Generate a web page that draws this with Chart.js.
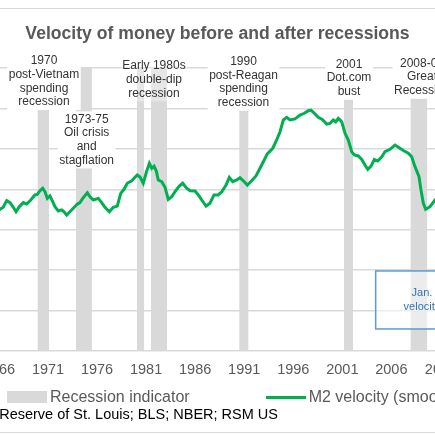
<!DOCTYPE html>
<html lang="en">
<head>
    <meta charset="UTF-8">
    <title>Velocity of money before and after recessions</title>
    <script src="https://cdn.jsdelivr.net/npm/chart.js"></script>
    <style>
        body { margin: 0; background: #fff; font-family: "Liberation Sans", Arial, sans-serif; }
        #frame { position: relative; width: 435px; height: 435px; overflow: hidden; background: #fff; }
        .rule { position: absolute; left: 0; width: 435px; height: 1px; background: #d9d9d9; }
        #chart { position: absolute; left: -67px; top: 0; width: 569px; height: 435px; }
        #legend { position: absolute; left: 7px; top: 387px; height: 20px; display: flex; align-items: center;
                  font-size: 16px; color: #595959; white-space: nowrap; }
        .item { display: flex; align-items: center; }
        .item + .item { margin-left: 76px; }
        .swatch { width: 40px; margin-right: 3px; }
        #source { position: absolute; left: -108px; top: 406px; font-size: 14.5px; line-height: 17px;
                  color: #000; white-space: nowrap; }
    </style>
</head>
<body>
<div id="frame">
    <div class="rule" style="top:8px"></div>
    <div class="rule" style="top:432px"></div>
    <canvas id="chart" width="569" height="435"></canvas>
    <div id="legend"></div>
    <div id="source">Source: Federal Reserve of St. Louis; BLS; NBER; RSM US</div>
</div>

<script>
// M2 velocity, smoothed
const years = [1965.80, 1966.11, 1966.44, 1966.79, 1967.13, 1967.46, 1967.74, 1968.07, 1968.48, 1968.83,
    1969.24, 1969.67, 1969.91, 1970.18, 1970.46, 1970.69, 1970.93, 1971.20, 1971.48, 1971.71,
    1972.05, 1972.40, 1972.63, 1972.91, 1973.24, 1973.58, 1973.99, 1974.26, 1974.54, 1975.01,
    1975.28, 1975.62, 1976.13, 1976.47, 1976.81, 1977.25, 1977.66, 1978.06, 1978.41, 1978.75,
    1979.08, 1979.53, 1980.10, 1980.38, 1980.71, 1981.06, 1981.33, 1981.57, 1981.81, 1982.04,
    1982.24, 1982.59, 1982.93, 1983.26, 1983.61, 1983.95, 1984.38, 1984.73, 1985.14, 1985.48,
    1985.99, 1986.32, 1986.67, 1987.11, 1987.51, 1987.92, 1988.36, 1988.71, 1989.15, 1989.48,
    1989.83, 1990.24, 1990.57, 1990.91, 1991.32, 1991.76, 1992.20, 1992.61, 1992.95, 1993.35,
    1993.91, 1994.31, 1994.65, 1994.99, 1995.33, 1995.67, 1996.18, 1996.69, 1997.13, 1997.53,
    1997.81, 1998.15, 1998.55, 1998.96, 1999.41, 1999.75, 2000.08, 2000.33, 2000.59, 2000.94,
    2001.28, 2001.61, 2001.96, 2002.22, 2002.63, 2002.98, 2003.31, 2003.59, 2003.93, 2004.26,
    2004.61, 2005.02, 2005.35, 2005.86, 2006.37, 2006.71, 2007.22, 2007.73, 2008.07, 2008.41,
    2008.82, 2009.02, 2009.26, 2009.50, 2009.94, 2010.45, 2010.90];
const velocity = [1.690, 1.701, 1.711, 1.744, 1.734, 1.711, 1.689, 1.714, 1.734, 1.727,
    1.747, 1.772, 1.775, 1.793, 1.805, 1.788, 1.755, 1.767, 1.739, 1.714,
    1.693, 1.698, 1.689, 1.673, 1.689, 1.706, 1.727, 1.734, 1.755, 1.783,
    1.763, 1.747, 1.755, 1.734, 1.711, 1.689, 1.711, 1.717, 1.780, 1.800,
    1.830, 1.842, 1.871, 1.861, 1.830, 1.890, 1.929, 1.904, 1.914, 1.890,
    1.846, 1.838, 1.810, 1.750, 1.763, 1.788, 1.816, 1.830, 1.806, 1.793,
    1.792, 1.772, 1.747, 1.717, 1.731, 1.772, 1.772, 1.788, 1.821, 1.859,
    1.838, 1.846, 1.857, 1.842, 1.821, 1.842, 1.866, 1.904, 1.936, 1.975,
    2.003, 2.044, 2.085, 2.143, 2.156, 2.143, 2.148, 2.167, 2.176, 2.189,
    2.192, 2.176, 2.156, 2.146, 2.123, 2.126, 2.143, 2.134, 2.151, 2.134,
    2.077, 2.044, 1.986, 1.970, 1.965, 1.948, 1.920, 1.899, 1.915, 1.948,
    1.940, 1.961, 1.986, 1.998, 2.019, 2.008, 1.992, 1.979, 1.961, 1.912,
    1.862, 1.796, 1.731, 1.701, 1.714, 1.747, 1.770];

// NBER recessions (start / end, decimal years)
const recessionStart = [1969.95, 1973.85, 1980.07, 1981.50, 1990.50, 2001.17, 2007.97];
const recessionEnd   = [1971.10, 1975.47, 1980.79, 1983.13, 1991.42, 2002.09, 2009.67];

const tickYears = [1966, 1971, 1976, 1981, 1986, 1991, 1996, 2001, 2006, 2011];
const yMin = 1.0, yMax = 2.4, yStep = 0.2;

// text boxes above the recession bars
const notes = [
    { year: 1970.59, value: 2.435, fill: 1,    lines: ['1970', 'post-Vietnam', 'spending', 'recession'] },
    { year: 1974.94, value: 2.146, fill: 1,    lines: ['1973-75', 'Oil crisis', 'and', 'stagflation'] },
    { year: 1981.80, value: 2.410, fill: 0.35, lines: ['Early 1980s', 'double-dip', 'recession'] },
    { year: 1990.93, value: 2.431, fill: 1,    lines: ['1990', 'post-Reagan', 'spending', 'recession'] },
    { year: 2001.68, value: 2.418, fill: 1,    lines: ['2001', 'Dot.com', 'bust'] },
    { year: 2009.12, value: 2.423, fill: 1,    lines: ['2008-09', 'Great', 'Recession'] }
];
const callout = { left: 2004.40, right: 2017.0, top: 1.396, bottom: 1.109,
    textYear: 2010.52, textValues: [1.2855, 1.219], lines: ['Jan. 2021', 'velocity: 1.12'] };

const FONT = '"Liberation Sans", Arial, sans-serif';

// recession indicator as a stepped area from the bottom of the axis
const recessionPoints = [{ x: 1959, y: yMin }];
recessionStart.forEach((s, i) => {
    recessionPoints.push({ x: s, y: yMax });
    recessionPoints.push({ x: recessionEnd[i], y: yMin });
});

const notesPlugin = {
    id: 'notes',
    afterDatasetsDraw(chart) {
        const { ctx, scales: { x, y } } = chart;
        const lh = 13.7;
        ctx.save();
        ctx.font = '12px ' + FONT;
        ctx.textAlign = 'center';
        ctx.textBaseline = 'middle';
        notes.forEach(n => {
            const cx = x.getPixelForValue(n.year);
            const top = y.getPixelForValue(n.value);
            const w = Math.max(...n.lines.map(t => ctx.measureText(t).width)) + 3;
            ctx.fillStyle = 'rgba(255,255,255,' + n.fill + ')';
            ctx.fillRect(cx - w / 2, top - 8, w, (n.lines.length - 1) * lh + 16);
            ctx.fillStyle = '#333333';
            n.lines.forEach((t, i) => ctx.fillText(t, cx, top + i * lh));
        });

        // callout box, bottom right
        const bx = x.getPixelForValue(callout.left);
        const by = y.getPixelForValue(callout.top);
        const bw = x.getPixelForValue(callout.right) - bx;
        const bh = y.getPixelForValue(callout.bottom) - by;
        ctx.fillStyle = 'rgba(255,255,255,0.5)';
        ctx.fillRect(bx, by, bw, bh);
        ctx.strokeStyle = '#5b9bd5';
        ctx.lineWidth = 1.5;
        ctx.strokeRect(bx, by, bw, bh);
        ctx.font = '11px ' + FONT;
        ctx.fillStyle = '#2e75b6';
        const tx = x.getPixelForValue(callout.textYear);
        callout.lines.forEach((t, i) => ctx.fillText(t, tx, y.getPixelForValue(callout.textValues[i])));
        ctx.restore();
    }
};

const chart = new Chart(document.getElementById('chart'), {
    type: 'line',
    data: {
        datasets: [{
            label: 'Recession indicator',
            data: recessionPoints,
            stepped: 'before',
            borderWidth: 0,
            borderColor: '#d9d9d9',
            backgroundColor: '#d9d9d9',
            fill: 'start',
            pointRadius: 0,
            order: 2
        }, {
            label: 'M2 velocity (smoothed)',
            data: years.map((yr, i) => ({ x: yr, y: velocity[i] })),
            borderColor: '#00b050',
            backgroundColor: '#00b050',
            borderWidth: 3,
            tension: 0,
            pointRadius: 0,
            fill: false,
            order: 1
        }]
    },
    options: {
        responsive: false,
        animation: false,
        devicePixelRatio: 1,
        layout: { padding: { left: 0, right: 0, top: 0, bottom: 54 } },
        plugins: {
            legend: { display: false },
            tooltip: { enabled: false },
            title: {
                display: true,
                text: 'Velocity of money before and after recessions',
                color: '#595959',
                font: { family: FONT, size: 17.6, weight: 'bold' },
                padding: { top: 23.9, bottom: 23 }
            }
        },
        scales: {
            x: {
                type: 'linear',
                min: 1959.277,
                max: 2017.277,
                grid: { display: false, drawTicks: false },
                border: { display: false },
                afterBuildTicks: s => { s.ticks = tickYears.map(v => ({ value: v })); },
                afterFit: s => { s.height = 30; },
                ticks: {
                    color: '#595959',
                    padding: 10,
                    maxRotation: 0,
                    autoSkip: false,
                    font: { family: FONT, size: 14.5 },
                    callback: v => String(v)
                }
            },
            y: {
                min: yMin,
                max: yMax,
                afterFit: s => { s.width = 0; },
                grid: { color: '#d9d9d9', lineWidth: 1.5, drawTicks: false },
                border: { display: false },
                ticks: { display: false, stepSize: yStep }
            }
        }
    },
    plugins: [notesPlugin]
});

// html legend from the datasets
const legendEl = document.getElementById('legend');
chart.data.datasets.forEach(ds => {
    const item = document.createElement('div');
    item.className = 'item';
    const sw = document.createElement('span');
    sw.className = 'swatch';
    if (ds.fill) {
        sw.style.height = '12px';
        sw.style.background = ds.backgroundColor;
    } else {
        sw.style.height = ds.borderWidth + 'px';
        sw.style.background = ds.borderColor;
    }
    const txt = document.createElement('span');
    txt.textContent = ds.label;
    item.appendChild(sw);
    item.appendChild(txt);
    legendEl.appendChild(item);
});
</script>
</body>
</html>
